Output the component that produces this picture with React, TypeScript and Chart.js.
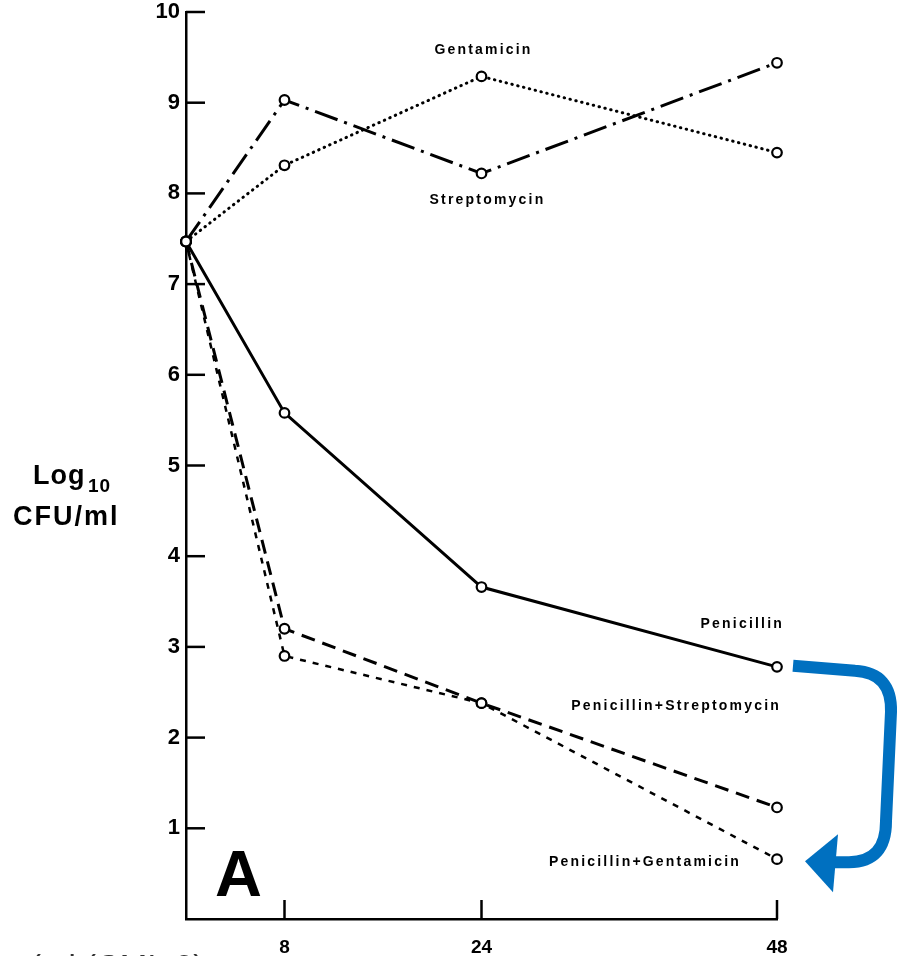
import React, { useEffect, useRef } from "react";
import { Chart, registerables } from "chart.js";

Chart.register(...registerables);

const hours = [0, 8, 24, 48];
const xTickValues = [8, 24, 48];
const yTickValues = [1, 2, 3, 4, 5, 6, 7, 8, 9, 10];

const streptomycin = [7.47, 9.03, 8.22, 9.44];
const gentamicin = [7.47, 8.31, 9.29, 8.45];
const penicillin = [7.47, 5.58, 3.66, 2.78];
const penStrep = [7.47, 3.2, 2.38, 1.23];
const penGent = [7.47, 2.9, 2.38, 0.66];

const seriesNames = [
  "Streptomycin",
  "Gentamicin",
  "Penicillin",
  "Penicillin+Streptomycin",
  "Penicillin+Gentamicin",
];

const LABEL_FONT = '"Liberation Sans", Arial, sans-serif';

const decorPlugin = {
  id: "decor",
  beforeDatasetsDraw(chart: any) {
    const { ctx, scales } = chart;
    const xs = scales.x;
    const ys = scales.y;
    ctx.save();
    ctx.strokeStyle = "#000";
    ctx.lineWidth = 2.5;
    ctx.lineCap = "butt";
    ys.ticks.forEach((t: any) => {
      const y = ys.getPixelForValue(t.value);
      if (t.value === 0) return;
      ctx.beginPath();
      ctx.moveTo(xs.left, y);
      ctx.lineTo(xs.left + 19, y);
      ctx.stroke();
    });
    xs.ticks.forEach((t: any) => {
      const x = xs.getPixelForValue(t.value);
      ctx.beginPath();
      ctx.moveTo(x, ys.bottom);
      ctx.lineTo(x, ys.bottom - 19);
      ctx.stroke();
    });
    ctx.restore();
  },
  afterDraw(chart: any) {
    const { ctx, scales } = chart;
    const xs = scales.x;
    const ys = scales.y;
    const px = (v: number) => xs.getPixelForValue(v);
    const py = (v: number) => ys.getPixelForValue(v);
    ctx.save();
    ctx.fillStyle = "#000";
    ctx.font = `bold 14px ${LABEL_FONT}`;
    (ctx as any).letterSpacing = "2.2px";
    ctx.textBaseline = "middle";

    ctx.textAlign = "center";
    ctx.fillText(seriesNames[1], px(24) + 2, py(gentamicin[2]) - 26);
    ctx.fillText(seriesNames[0], px(24) + 6, py(streptomycin[2]) + 27);

    ctx.textAlign = "right";
    ctx.fillText(seriesNames[2], px(48) + 7, py(penicillin[3]) - 43);
    ctx.fillText(seriesNames[3], px(48) + 4, py(penicillin[3]) + 39);
    ctx.fillText(seriesNames[4], px(48) - 36, py(penGent[3]) + 3);

    // Y axis title
    (ctx as any).letterSpacing = "1px";
    ctx.textAlign = "left";
    ctx.textBaseline = "alphabetic";
    ctx.font = `bold 27px ${LABEL_FONT}`;
    ctx.fillText("Log", 33, 484);
    ctx.font = `bold 19px ${LABEL_FONT}`;
    ctx.fillText("10", 88, 492);
    (ctx as any).letterSpacing = "2px";
    ctx.font = `bold 27px ${LABEL_FONT}`;
    ctx.fillText("CFU/ml", 13, 525);

    // Panel letter
    (ctx as any).letterSpacing = "0px";
    ctx.font = `900 65px ${LABEL_FONT}`;
    ctx.fillText("A", 215, 896);

    // cut-off caption at the bottom
    ctx.fillStyle = "#333";
    ctx.font = `33px ${LABEL_FONT}`;
    ctx.fillText("(ml (CMI: 2)", 30, 978);

    // blue arrow
    const ax = px(48);
    const aT = py(penicillin[3]);
    const aB = py(penGent[3]);
    ctx.strokeStyle = "#0070C0";
    ctx.fillStyle = "#0070C0";
    ctx.lineWidth = 12;
    ctx.lineCap = "butt";
    ctx.lineJoin = "round";
    ctx.beginPath();
    ctx.moveTo(ax + 16, aT - 1);
    ctx.lineTo(ax + 78, aT + 4);
    ctx.quadraticCurveTo(ax + 115, aT + 6, ax + 114, aT + 45);
    ctx.lineTo(ax + 109, aB - 38);
    ctx.quadraticCurveTo(ax + 109, aB + 3, ax + 72, aB + 3);
    ctx.lineTo(ax + 52, aB + 3);
    ctx.stroke();
    ctx.beginPath();
    ctx.moveTo(ax + 28, aB + 2);
    ctx.lineTo(ax + 61, aB - 25);
    ctx.lineTo(ax + 56, aB + 33);
    ctx.closePath();
    ctx.fill();
    ctx.restore();
  },
};

export default function App() {
  const ref = useRef<HTMLCanvasElement | null>(null);
  useEffect(() => {
    if (!ref.current) return;
    const mk = (data: number[], dash: number[], width: number, cap: string) => ({
      data: hours.map((h, i) => ({ x: h, y: data[i] })),
      borderColor: "#000",
      borderWidth: width,
      borderDash: dash,
      borderCapStyle: cap,
      pointRadius: 4.8,
      pointBorderWidth: 2.2,
      pointBackgroundColor: "#fff",
      pointBorderColor: "#000",
      tension: 0,
      fill: false,
      clip: false,
    });
    const chart = new Chart(ref.current, {
      type: "line",
      data: {
        datasets: [
          { label: seriesNames[0], ...mk(streptomycin, [24, 7, 3, 7], 3, "butt") },
          { label: seriesNames[1], ...mk(gentamicin, [0.5, 5.5], 3, "round") },
          { label: seriesNames[2], ...mk(penicillin, [], 3, "butt") },
          { label: seriesNames[3], ...mk(penStrep, [14, 8], 3, "butt") },
          { label: seriesNames[4], ...mk(penGent, [6, 7], 2.5, "butt") },
        ] as any,
      },
      options: {
        animation: false,
        responsive: false,
        devicePixelRatio: 1,
        layout: { padding: { top: 12, right: 121, left: 0, bottom: 0 } },
        plugins: { legend: { display: false }, tooltip: { enabled: false } },
        scales: {
          x: {
            type: "linear",
            min: 0,
            max: 48,
            grid: { display: false, drawTicks: false },
            border: { display: true, color: "#000", width: 2.5 },
            afterBuildTicks: (s: any) => {
              s.ticks = xTickValues.map((v) => ({ value: v }));
            },
            afterFit: (s: any) => {
              s.height = 37;
              s.paddingLeft = 0;
              s.paddingRight = 0;
            },
            ticks: {
              padding: 17,
              color: "#000",
              font: { family: LABEL_FONT, size: 19, weight: "bold" },
              maxRotation: 0,
              autoSkip: false,
            },
          },
          y: {
            type: "linear",
            min: 0,
            max: 10,
            grid: { display: false, drawTicks: false },
            border: { display: true, color: "#000", width: 2.5 },
            afterBuildTicks: (s: any) => {
              s.ticks = yTickValues.map((v) => ({ value: v }));
            },
            afterFit: (s: any) => {
              s.width = 186;
              s.paddingTop = 0;
              s.paddingBottom = 0;
            },
            ticks: {
              padding: 6,
              color: "#000",
              font: { family: LABEL_FONT, size: 22, weight: "bold" },
              autoSkip: false,
            },
          },
        },
      } as any,
      plugins: [decorPlugin],
    });
    return () => chart.destroy();
  }, []);
  return (
    <div style={{ position: "absolute", left: 0, top: 0, width: 898, height: 956, overflow: "hidden", background: "#fff" }}>
      <canvas ref={ref} width={898} height={956} style={{ display: "block" }} />
    </div>
  );
}
